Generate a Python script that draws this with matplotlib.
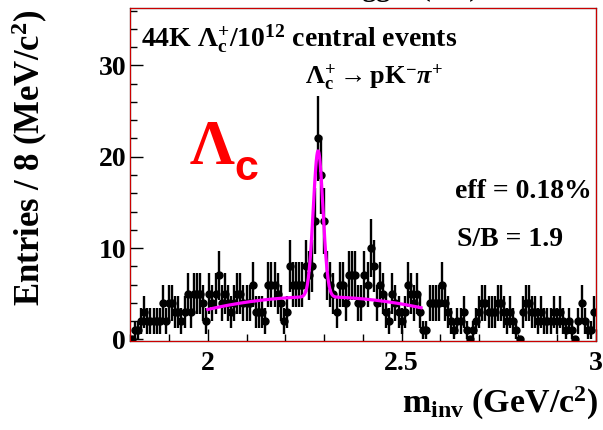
import numpy as np
import matplotlib
matplotlib.use("Agg")
import matplotlib.pyplot as plt
from matplotlib.patches import Rectangle
from matplotlib.ticker import FixedLocator, MultipleLocator

plt.rcParams["font.family"] = ["Liberation Serif", "DejaVu Serif"]
plt.rcParams["font.weight"] = "bold"
plt.rcParams["mathtext.fontset"] = "custom"
plt.rcParams["mathtext.rm"] = "Liberation Serif"
plt.rcParams["mathtext.it"] = "Liberation Serif:italic"
plt.rcParams["mathtext.bf"] = "Liberation Serif:bold"
plt.rcParams["mathtext.sf"] = "Liberation Sans:bold"

# invariant-mass histogram: 8 MeV bins between 1.8 and 3.0 GeV/c^2
m_lo, m_hi, bin_w = 1.8, 3.0, 0.008
counts = [
    0, 1, 1, 2, 3, 2, 2, 2, 2, 2,
    4, 2, 4, 4, 3, 3, 2, 3, 5, 3,
    5, 5, 5, 4, 2, 5, 4, 5, 7, 4,
    5, 4, 3, 4, 5, 5, 4, 4, 4, 6,
    3, 3, 3, 2, 6, 6, 6, 5, 4, 2,
    3, 8, 6, 6, 6, 6, 8, 7, 8, 13,
    22, 18, 13, 7, 6, 5, 3, 6, 6, 4,
    7, 7, 7, 4, 4, 7, 6, 10, 8, 4,
    6, 5, 3, 2, 5, 4, 3, 2, 3, 6,
    5, 4, 5, 3, 1, 1, 4, 4, 4, 4,
    6, 4, 3, 2, 1, 2, 2, 3, 1, 0,
    1, 2, 3, 4, 4, 3, 3, 3, 4, 4,
    3, 2, 3, 2, 1, 0, 3, 4, 4, 3,
    3, 2, 3, 2, 2, 2, 3, 2, 3, 2,
    1, 2, 1, 0, 2, 4, 2, 1, 1, 3,
]

# fit model: gaussian signal on a quadratic background
fit_lo, fit_hi = 2.0, 2.55
bkg_c0, bkg_c2, bkg_x0 = 4.65, -17.0, 2.285
sig_amp, sig_mean, sig_width = 16.0, 2.2845, 0.0125

x_ticks = [2.0, 2.5, 3.0]
x_ticklabels = ["2", "2.5", "3"]
y_ticks = [0, 10, 20, 30]

W, H = 603, 430
fig = plt.figure(figsize=(W / 100, H / 100), dpi=100)


def fx(px):
    return px / W


def fy(py):
    return 1 - py / H


ax = fig.add_axes([fx(130.3), fy(341), (595.5 - 130.3) / W, (341 - 8) / H])

counts = np.asarray(counts, dtype=float)
edges = np.arange(len(counts) + 1) * bin_w + m_lo
centers = 0.5 * (edges[:-1] + edges[1:])
ax.errorbar(centers, counts, yerr=np.sqrt(counts), fmt="o", color="black",
            ms=5, elinewidth=1.7, capsize=0, zorder=3)

xf = np.linspace(fit_lo, fit_hi, 400)
yf = (bkg_c0 + bkg_c2 * (xf - bkg_x0) ** 2
      + sig_amp * np.exp(-0.5 * ((xf - sig_mean) / sig_width) ** 2))
ax.plot(xf, yf, color="#ff00ff", lw=2.3, zorder=4)

ax.set_xlim(m_lo, m_hi)
ax.set_ylim(-0.19, 36.3)

ax.xaxis.set_major_locator(FixedLocator(x_ticks))
ax.set_xticklabels(x_ticklabels)
ax.xaxis.set_minor_locator(MultipleLocator(0.1))
ax.yaxis.set_major_locator(FixedLocator(y_ticks))
ax.yaxis.set_minor_locator(MultipleLocator(2))
ax.tick_params(which="both", direction="in", top=False, right=False,
               width=1.0, color="black")
ax.tick_params(which="major", length=9, labelsize=20)
ax.tick_params(which="minor", length=5)
ax.tick_params(axis="x", which="major", pad=7)
ax.tick_params(axis="y", which="major", pad=3)

for sp in ax.spines.values():
    sp.set_color("black")
    sp.set_linewidth(0.9)
frame = Rectangle((0, 0), 1, 1, transform=ax.transAxes, fill=False,
                  edgecolor="#cc0000", lw=0.8, zorder=5, clip_on=False)
ax.add_patch(frame)

# annotations
fig.text(fx(141), fy(45.6),
         r"44K $\Lambda_{\mathbf{c}}^{+}$/10$^{\mathbf{12}}$ central events",
         fontsize=20, ha="left", va="baseline")
fig.text(fx(305), fy(84),
         r"$\Lambda_{\mathbf{c}}^{+}\rightarrow\mathbf{pK}^{\mathbf{-}}\pi^{+}$",
         fontsize=19, ha="left", va="baseline")
fig.text(fx(190), fy(164), "\u039b", fontsize=45, color="#ff0000",
         ha="left", va="baseline", family="Liberation Serif", weight="bold")
fig.text(fx(234), fy(180), "c", fontsize=31, color="#ff0000",
         ha="left", va="baseline", family="Liberation Sans", weight="bold")
fig.text(fx(455), fy(198), "eff = 0.18%", fontsize=20, ha="left", va="baseline")
fig.text(fx(457), fy(246), "S/B = 1.9", fontsize=20, ha="left", va="baseline")
fig.text(fx(333), fy(-3.5), "trigger (HF)", fontsize=20, ha="left", va="baseline")

fig.text(fx(30), fy(10), r"Entries / 8 (MeV/c$^{\mathbf{2}}$)",
         fontsize=25, rotation=90, ha="center", va="top")
fig.text(fx(598), fy(413), r"m$_{\mathbf{inv}}$ (GeV/c$^{\mathbf{2}}$)",
         fontsize=24.5, ha="right", va="baseline")

fig.savefig("out.png", dpi=100)
